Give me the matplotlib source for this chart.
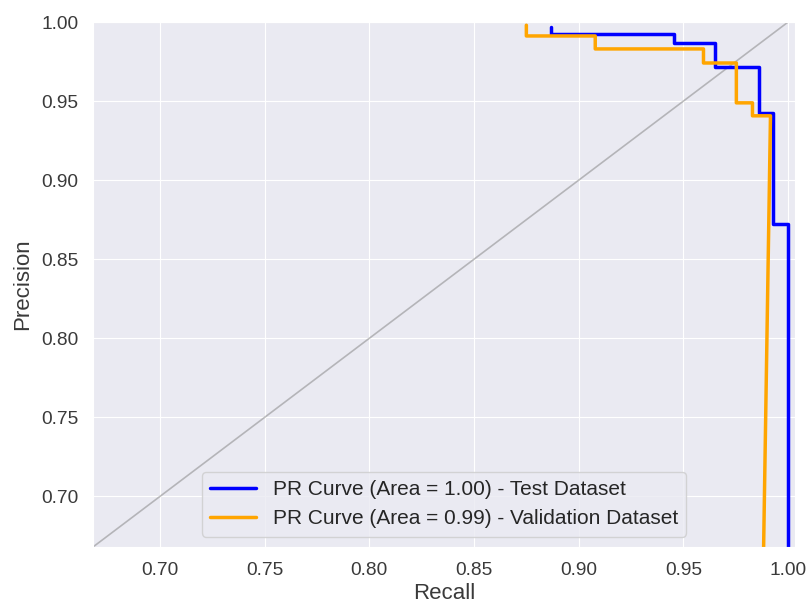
import matplotlib
matplotlib.use('Agg')
import matplotlib.pyplot as plt
import seaborn as sns

sns.set_style('darkgrid')
plt.rcParams['font.family'] = ['Liberation Sans', 'DejaVu Sans']

# corner points of the PR curves
test_recall = [0.887, 0.887, 0.9457, 0.9457, 0.9653, 0.9653, 0.9859, 0.9859, 0.9930, 0.9930, 1.0, 1.0]
test_precision = [0.997, 0.9924, 0.9924, 0.9868, 0.9868, 0.9716, 0.9716, 0.9426, 0.9426, 0.872, 0.872, 0.5]

val_recall = [0.875, 0.875, 0.9079, 0.9079, 0.9596, 0.9596, 0.9753, 0.9753, 0.983, 0.983, 0.9916, 0.9863]
val_precision = [0.998, 0.9912, 0.9912, 0.983, 0.983, 0.9741, 0.9741, 0.9489, 0.9489, 0.9407, 0.9407, 0.5]

test_label = 'PR Curve (Area = 1.00) - Test Dataset'
val_label = 'PR Curve (Area = 0.99) - Validation Dataset'
ticks = [0.70, 0.75, 0.80, 0.85, 0.90, 0.95, 1.00]

fig = plt.figure(figsize=(8.07, 6.09), dpi=100)
ax = fig.add_axes([0.1152, 0.1018, 0.8699, 0.862])

ax.plot([0, 1], [0, 1], color='grey', alpha=0.5, lw=1.2)
ax.plot(test_recall, test_precision, color='blue', lw=2.5, label=test_label)
ax.plot(val_recall, val_precision, color='orange', lw=2.5, label=val_label)

ax.set_xlim(0.668, 1.0033)
ax.set_ylim(0.668, 1.0)
ax.set_xticks(ticks)
ax.set_yticks(ticks)
ax.tick_params(labelsize=13.8, colors='#3a3a3a', pad=7)
ax.set_xlabel('Recall', fontsize=16, color='#3a3a3a', labelpad=3)
ax.set_ylabel('Precision', fontsize=16, color='#3a3a3a', labelpad=6)
ax.legend(loc='lower center', fontsize=15, handlelength=2.2)

fig.savefig('out.png', dpi=100)
